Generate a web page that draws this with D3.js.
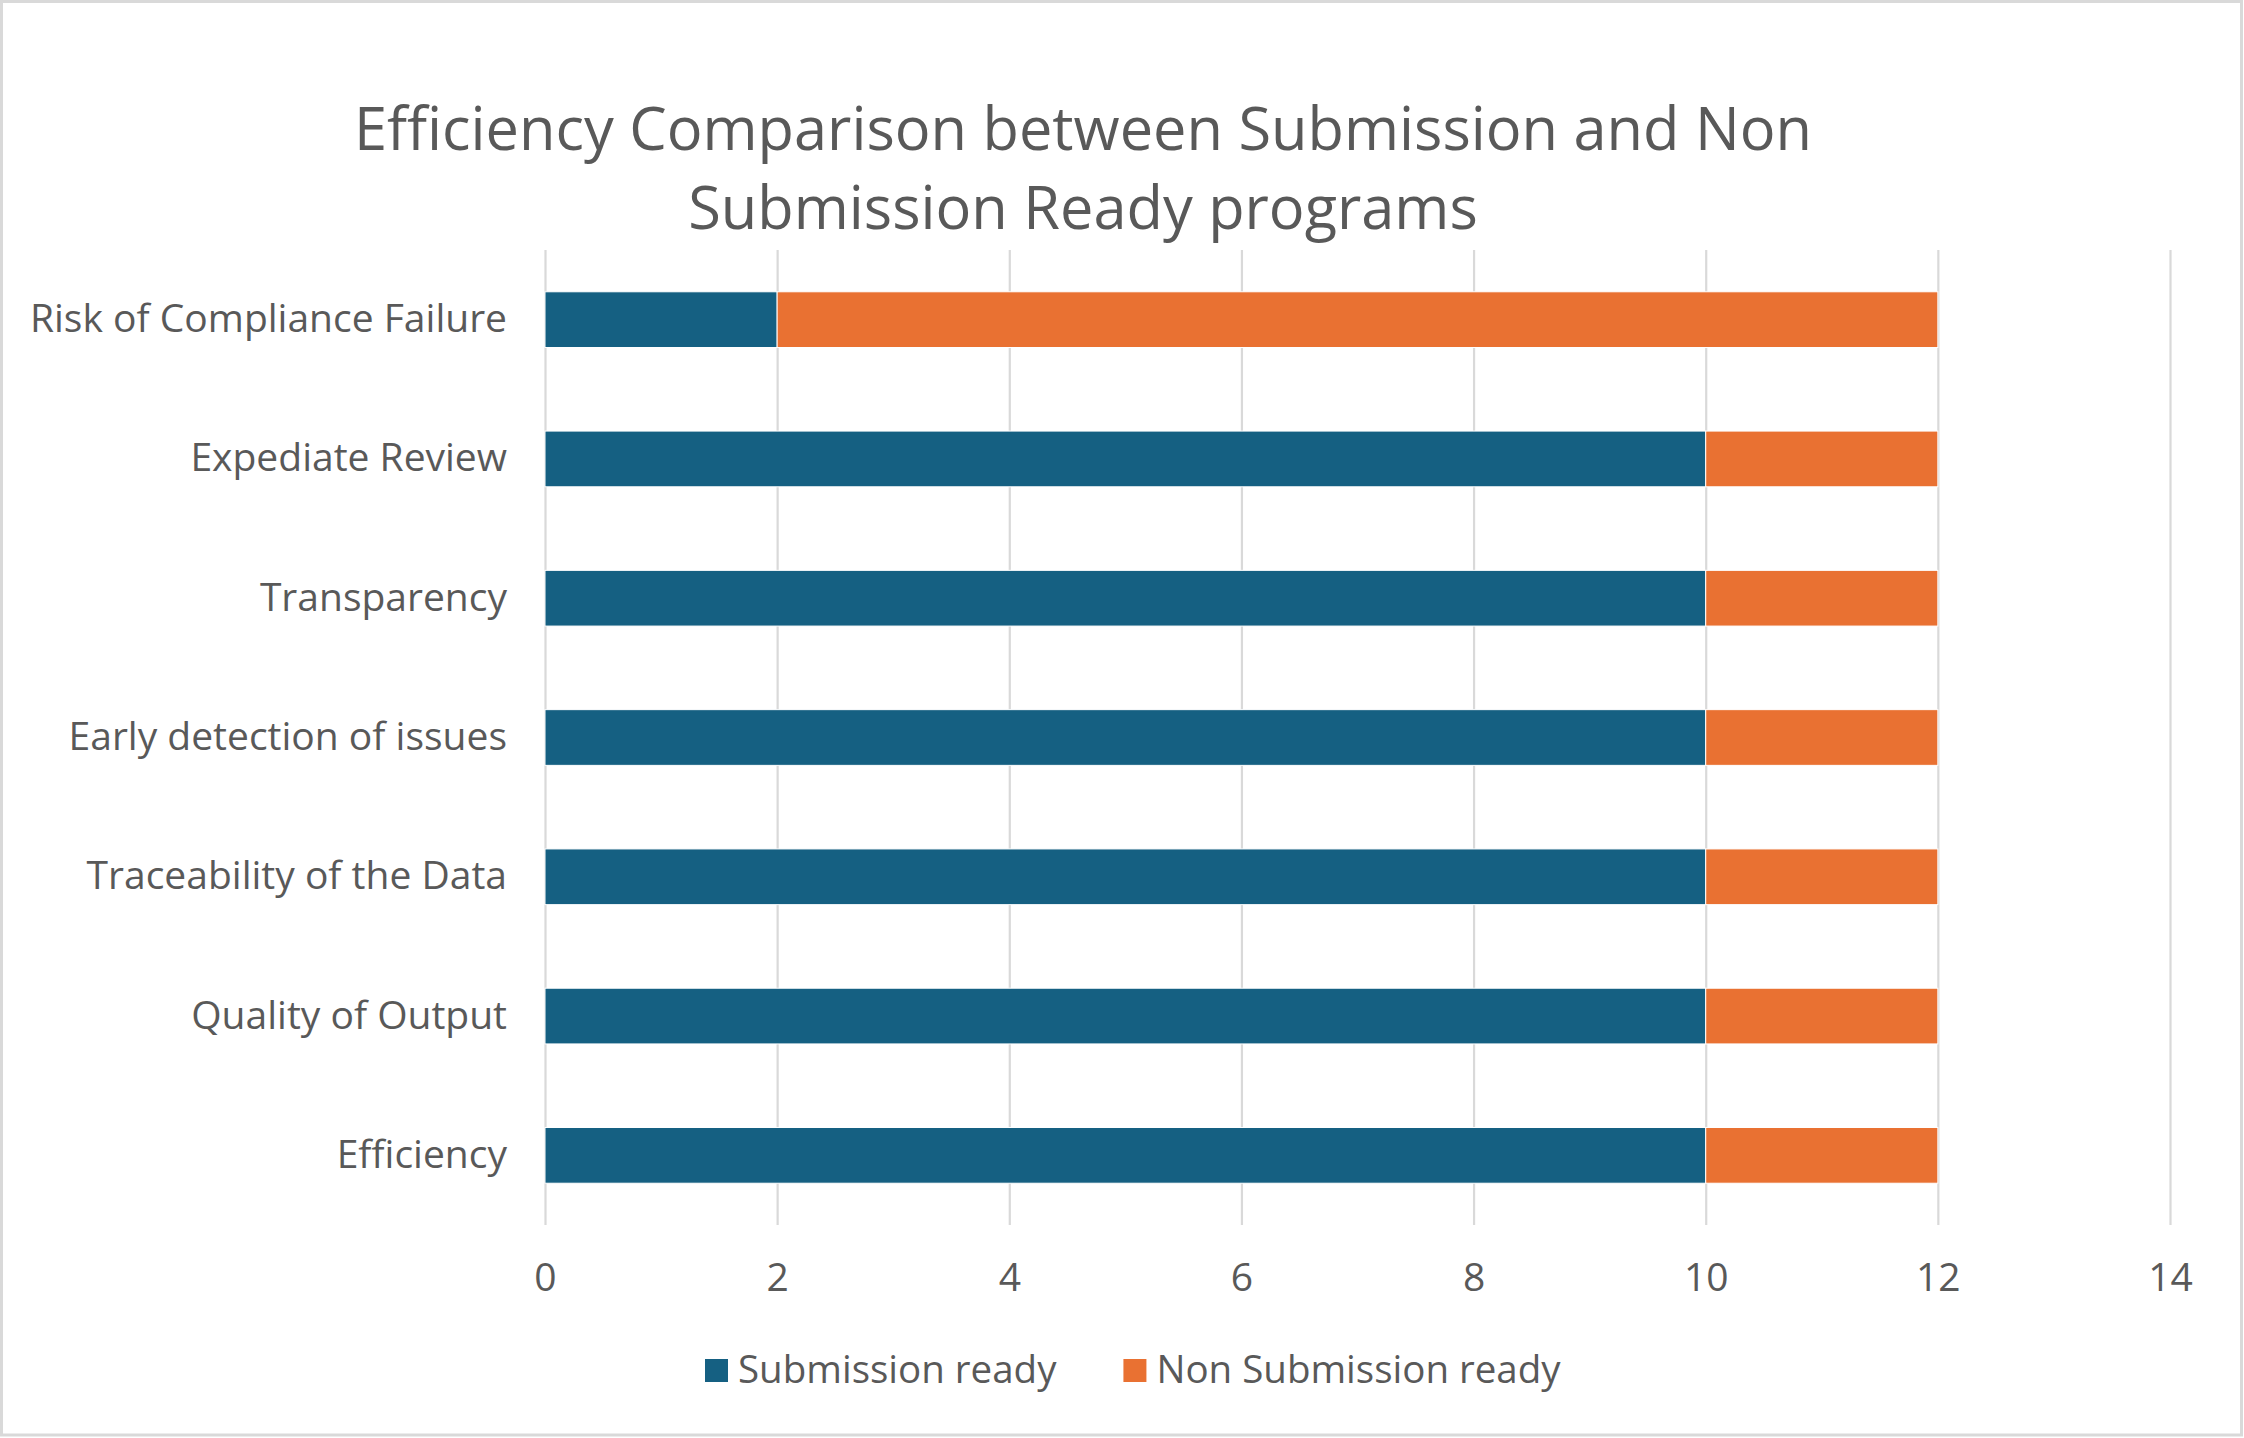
<!DOCTYPE html>
<html>
<head>
<meta charset="utf-8">
<script src="https://cdn.jsdelivr.net/npm/d3@7"></script>
<style>
  html, body { margin: 0; padding: 0; background: #fff; }
  svg { display: block; }
  text { font-family: "Open Sans", "Noto Sans", sans-serif; fill: #595959; }
</style>
</head>
<body>
<div id="chart"></div>
<script>
// data, bottom-to-top as in the sheet
const categories = [
  "Efficiency",
  "Quality of Output",
  "Traceability of the Data",
  "Early detection of issues",
  "Transparency",
  "Expediate Review",
  "Risk of Compliance Failure"
];
const submissionReady = [10, 10, 10, 10, 10, 10, 2];
const nonSubmissionReady = [2, 2, 2, 2, 2, 2, 10];
const seriesNames = ["Submission ready", "Non Submission ready"];
const seriesColors = ["#156082", "#E97132"];
const xTicks = [0, 2, 4, 6, 8, 10, 12, 14];
const titleLines = [
  "Efficiency Comparison between Submission and Non",
  "Submission Ready programs"
];

const width = 2244;
const height = 1438;
const plot = { left: 545, right: 2170, top: 250, bottom: 1225 };

const svg = d3.select("#chart")
  .append("svg")
  .attr("width", width)
  .attr("height", height)
  .attr("viewBox", `0 0 ${width} ${height}`);

svg.append("rect")
  .attr("x", 1.5).attr("y", 1.5)
  .attr("width", width - 4).attr("height", height - 4.5)
  .attr("fill", "#fff")
  .attr("stroke", "#D9D9D9")
  .attr("stroke-width", 3);

// title
svg.append("text")
  .attr("text-anchor", "middle")
  .attr("font-size", 59.5)
  .selectAll("tspan")
  .data(titleLines)
  .join("tspan")
  .attr("x", 1083)
  .attr("y", (d, i) => 150 + i * 79)
  .text(d => d);

const x = d3.scaleLinear()
  .domain([0, 14])
  .range([plot.left, plot.right]);

// top category first, like Excel's reversed drawing order
const y = d3.scaleBand()
  .domain(categories.slice().reverse())
  .range([plot.top, plot.bottom])
  .paddingInner(0.6)
  .paddingOuter(0.3);

// gridlines
svg.append("g")
  .attr("transform", `translate(0,${plot.bottom})`)
  .call(d3.axisBottom(x).tickValues(xTicks).tickSize(-(plot.bottom - plot.top)).tickFormat(""))
  .call(g => g.select(".domain").remove())
  .call(g => g.selectAll(".tick line").attr("stroke", "#D9D9D9").attr("stroke-width", 2.2));

// stacked bars
const rows = categories.map((c, i) => ({
  category: c,
  [seriesNames[0]]: submissionReady[i],
  [seriesNames[1]]: nonSubmissionReady[i]
}));
const stacked = d3.stack().keys(seriesNames)(rows);

svg.append("g")
  .selectAll("g")
  .data(stacked)
  .join("g")
  .attr("fill", (d, i) => seriesColors[i])
  .selectAll("rect")
  .data(d => d)
  .join("rect")
  .attr("x", d => x(d[0]))
  .attr("y", d => y(d.data.category))
  .attr("width", d => x(d[1]) - x(d[0]))
  .attr("height", y.bandwidth())
  .attr("stroke", "#fff")
  .attr("stroke-width", 1);

// x axis labels
svg.append("g")
  .attr("transform", `translate(0,${plot.bottom})`)
  .call(d3.axisBottom(x).tickValues(xTicks).tickSize(0).tickFormat(d3.format("d")))
  .call(g => g.select(".domain").remove())
  .call(g => g.selectAll(".tick text")
    .attr("y", 66).attr("dy", 0)
    .attr("font-size", 39)
    .attr("font-family", null)
    .attr("fill", "#595959"));

// category labels
svg.append("g")
  .attr("transform", `translate(${plot.left},0)`)
  .call(d3.axisLeft(y).tickSize(0).tickPadding(38))
  .call(g => g.select(".domain").remove())
  .call(g => g.selectAll(".tick text")
    .attr("font-size", 39)
    .attr("font-family", null)
    .attr("fill", "#595959"));

// legend
const legend = svg.append("g").attr("transform", "translate(705,1359)");
let lx = 0;
seriesNames.forEach((name, i) => {
  const item = legend.append("g").attr("transform", `translate(${lx},0)`);
  item.append("rect")
    .attr("width", 23).attr("height", 23)
    .attr("fill", seriesColors[i]);
  const t = item.append("text")
    .attr("x", 33).attr("y", 24)
    .attr("font-size", 38.5)
    .text(name);
  lx += 33 + t.node().getComputedTextLength() + 67;
});
</script>
</body>
</html>
